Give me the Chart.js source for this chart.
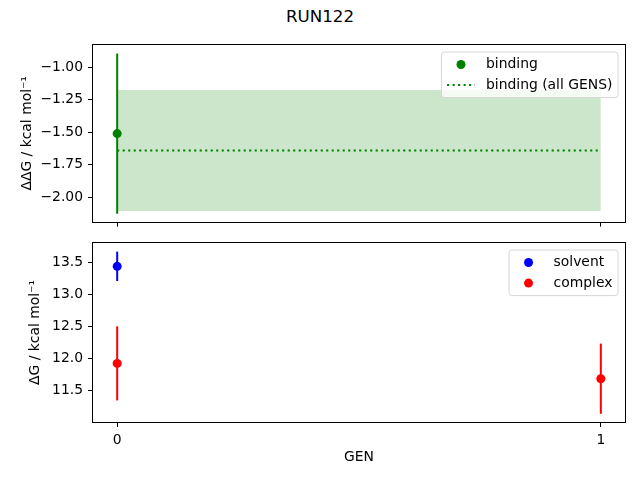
<!DOCTYPE html>
<html>
<head>
<meta charset="utf-8">
<script src="https://cdn.jsdelivr.net/npm/chart.js@4.4.0/dist/chart.umd.min.js"></script>
<style>
  body { margin: 0; background: #fff; }
  #wrap { position: relative; width: 640px; height: 480px; font-family: "DejaVu Sans", sans-serif; }
  #title { position: absolute; left: 0; top: 6px; width: 640px; text-align: center; font-size: 16.7px; line-height: 20px; color: #000; }
  canvas { position: absolute; left: 0; }
</style>
</head>
<body>
<div id="wrap">
  <div id="title">RUN122</div>
  <canvas id="bindingChart" width="640" height="235" style="top:0"></canvas>
  <canvas id="legChart" width="640" height="252" style="top:228px"></canvas>
</div>
<script>
// values
const gens = [0, 1];
const bindingGens = [0];
const binding = [-1.51];
const bindingErr = [0.615];
const bindingAll = -1.64;
const bindingAllErr = 0.465;
const solventGens = [0];
const solvent = [13.44];
const solventErr = [0.23];
const complexGens = [0, 1];
const complex = [11.92, 11.68];
const complexErr = [0.58, 0.55];
const topTicks = [-1.00, -1.25, -1.50, -1.75, -2.00];
const bottomTicks = [11.5, 12.0, 12.5, 13.0, 13.5];

const FONT = '"DejaVu Sans", sans-serif';
Chart.defaults.font.family = FONT;
Chart.defaults.font.size = 13.9;
Chart.defaults.color = '#000';
Chart.defaults.animation = false;

function errorBars(xs, ys, errs, color) {
    return xs.map((x, i) => ({
        data: [{ x: x, y: ys[i] - errs[i] }, { x: x, y: ys[i] + errs[i] }],
        showLine: true, borderColor: color, borderWidth: 2, pointRadius: 0, order: 3
    }));
}

function points(label, xs, ys, color) {
    return {
        label: label,
        data: xs.map((x, i) => ({ x: x, y: ys[i] })),
        backgroundColor: color, borderWidth: 0,
        pointRadius: 4.5, pointHoverRadius: 4.5, order: 1
    };
}

// matplotlib-like box round the plot area
const framePlugin = {
    id: 'frame',
    afterDatasetsDraw(chart) {
        const { ctx, chartArea: a } = chart;
        ctx.save();
        ctx.strokeStyle = '#000';
        ctx.lineWidth = 1;
        ctx.strokeRect(Math.round(a.left) - 0.5, Math.round(a.top) - 0.5,
            Math.round(a.right - a.left) + 1, Math.round(a.bottom - a.top) + 1);
        ctx.restore();
    }
};

// legend inside the plot area, upper right, with a light box
const boxLegend = {
    id: 'boxLegend',
    afterDraw(chart) {
        const items = chart.data.datasets.filter(d => d.label);
        const ctx = chart.ctx, a = chart.chartArea;
        ctx.save();
        ctx.font = '13.9px ' + FONT;
        const tw = Math.max(...items.map(d => ctx.measureText(d.label).width));
        const w = 5.6 + 27.8 + 11.1 + tw + 5.6;
        const h = 25 + (items.length - 1) * 20.6;
        const x = a.right - 7 - w, y = a.top + 7;
        ctx.beginPath();
        ctx.roundRect(x, y, w, h, 3);
        ctx.fillStyle = 'rgba(255,255,255,0.8)';
        ctx.fill();
        ctx.strokeStyle = '#d6d6d6';
        ctx.lineWidth = 1;
        ctx.stroke();
        items.forEach((d, i) => {
            const cy = y + 12.5 + i * 20.6;
            if (d.showLine) {
                ctx.beginPath();
                ctx.setLineDash(d.borderDash || []);
                ctx.strokeStyle = d.borderColor;
                ctx.lineWidth = d.borderWidth;
                ctx.moveTo(x + 5.6, cy);
                ctx.lineTo(x + 33.4, cy);
                ctx.stroke();
                ctx.setLineDash([]);
            } else {
                ctx.beginPath();
                ctx.fillStyle = d.backgroundColor;
                ctx.arc(x + 19.5, cy, 4.5, 0, Math.PI * 2);
                ctx.fill();
            }
            ctx.fillStyle = '#000';
            ctx.textBaseline = 'middle';
            ctx.textAlign = 'left';
            ctx.fillText(d.label, x + 44.5, cy);
        });
        ctx.restore();
    }
};

const tickGrid = { drawOnChartArea: false, color: '#000', lineWidth: 1, tickLength: 5 };

function xAxis(showLabels, height) {
    return {
        type: 'linear', min: -0.05, max: 1.05,
        afterBuildTicks: s => { s.ticks = gens.map(v => ({ value: v })); },
        afterFit: s => { s.height = height; },
        grid: tickGrid,
        border: { display: false },
        ticks: { display: showLabels, padding: 5, callback: v => String(v) },
        title: { display: showLabels, text: 'GEN', padding: 0 }
    };
}

function yAxis(min, max, ticks, digits, width, label) {
    return {
        min: min, max: max,
        afterBuildTicks: s => { s.ticks = ticks.map(v => ({ value: v })); },
        afterFit: s => { s.width = width; },
        grid: tickGrid,
        border: { display: false },
        ticks: { padding: 5, callback: v => v.toFixed(digits).replace('-', '\u2212') },
        title: { display: true, text: label, padding: 0 }
    };
}

const last = gens.length - 1;

new Chart(document.getElementById('bindingChart'), {
    type: 'scatter',
    data: {
        datasets: [
            points('binding', bindingGens, binding, '#008000'),
            {
                label: 'binding (all GENS)',
                data: [{ x: gens[0], y: bindingAll }, { x: gens[last], y: bindingAll }],
                showLine: true, borderColor: '#008000', borderDash: [2.1, 3.4],
                borderWidth: 2, pointRadius: 0, order: 2
            },
            ...errorBars(bindingGens, binding, bindingErr, '#008000'),
            {
                data: [{ x: gens[0], y: bindingAll + bindingAllErr }, { x: gens[last], y: bindingAll + bindingAllErr }],
                showLine: true, borderColor: 'rgba(0,0,0,0)', borderWidth: 1, pointRadius: 0,
                fill: { value: bindingAll - bindingAllErr },
                backgroundColor: 'rgba(0,128,0,0.2)', order: 4
            }
        ]
    },
    options: {
        responsive: false,
        animation: false,
        layout: { padding: { top: 45, right: 15, left: 18.7, bottom: 0 } },
        plugins: { legend: { display: false }, tooltip: { enabled: false } },
        scales: {
            x: xAxis(false, 12),
            y: yAxis(-2.186, -0.830, topTicks, 2, 93 - 18.7, 'ΔΔG / kcal mol⁻¹')
        }
    },
    plugins: [framePlugin, boxLegend]
});

new Chart(document.getElementById('legChart'), {
    type: 'scatter',
    data: {
        datasets: [
            points('solvent', solventGens, solvent, '#0000ff'),
            points('complex', complexGens, complex, '#ff0000'),
            ...errorBars(solventGens, solvent, solventErr, '#0000ff'),
            ...errorBars(complexGens, complex, complexErr, '#ff0000')
        ]
    },
    options: {
        responsive: false,
        animation: false,
        layout: { padding: { top: 15, right: 15, left: 26.7, bottom: 14.7 } },
        plugins: { legend: { display: false }, tooltip: { enabled: false } },
        scales: {
            x: xAxis(true, 43.3),
            y: yAxis(11.002, 13.805, bottomTicks, 1, 93 - 26.7, 'ΔG / kcal mol⁻¹')
        }
    },
    plugins: [framePlugin, boxLegend]
});
</script>
</body>
</html>
